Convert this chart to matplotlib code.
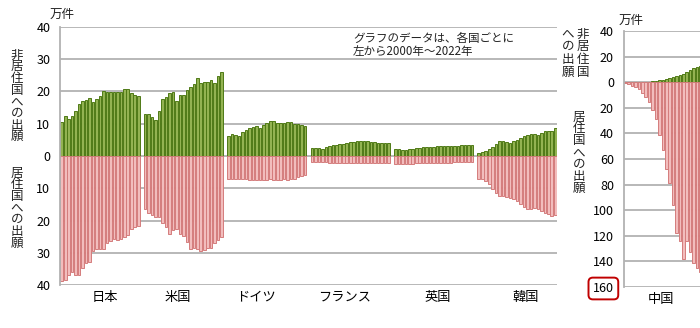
import numpy as np
import matplotlib
matplotlib.use("Agg")
import matplotlib.pyplot as plt
from matplotlib.ticker import FuncFormatter

plt.rcParams['font.family'] = ['Noto Sans CJK JP', 'DejaVu Sans']

# 2000..2022, patent applications (10,000 cases)
years = list(range(2000, 2023))
countries = ['日本', '米国', 'ドイツ', 'フランス', '英国', '韓国']

# applications to non-residence countries (upper, green)
nonres_jp = [10.5, 12.4, 11.6, 12.5, 14.0, 16.1, 16.9, 17.3, 17.8, 16.6, 17.6, 18.6,
             20.2, 19.9, 19.8, 19.7, 19.7, 19.9, 20.6, 20.6, 19.4, 18.8, 18.6]
nonres_us = [12.9, 13.0, 12.1, 11.1, 14.0, 17.5, 18.1, 19.5, 19.7, 17.1, 18.9, 19.0,
             20.4, 21.2, 22.3, 24.1, 22.6, 23.0, 22.9, 23.5, 22.5, 24.6, 26.1]
nonres_de = [6.3, 6.7, 6.4, 6.2, 7.3, 8.0, 8.6, 9.0, 9.3, 8.6, 9.6, 10.1,
             10.8, 10.9, 10.3, 10.2, 10.2, 10.4, 10.4, 9.8, 9.9, 9.7, 9.2]
nonres_fr = [2.5, 2.5, 2.5, 2.3, 2.9, 3.2, 3.3, 3.5, 3.7, 3.7, 4.0, 4.2,
             4.4, 4.5, 4.5, 4.5, 4.5, 4.4, 4.2, 4.1, 3.9, 4.1, 4.1]
nonres_uk = [2.1, 2.1, 2.0, 1.8, 2.1, 2.3, 2.4, 2.6, 2.8, 2.8, 2.9, 2.9,
             3.0, 3.0, 3.1, 3.1, 3.1, 3.2, 3.2, 3.3, 3.3, 3.4, 3.5]
nonres_kr = [1.0, 1.2, 1.6, 2.1, 2.9, 3.6, 4.5, 4.5, 4.3, 4.1, 4.5, 4.9,
             5.6, 6.2, 6.4, 6.9, 6.8, 6.6, 7.2, 7.7, 7.8, 7.8, 8.6]

# applications to residence country (lower, pink)
res_jp = [38.7, 38.5, 36.9, 35.8, 36.7, 36.7, 34.7, 33.2, 32.9, 29.3, 28.9, 28.7,
          28.7, 26.9, 26.3, 25.8, 25.9, 25.8, 25.2, 24.3, 22.7, 21.9, 21.6]
res_us = [16.5, 17.5, 18.2, 18.9, 19.0, 20.6, 22.1, 24.1, 22.9, 22.5, 24.1, 24.6,
          26.5, 28.7, 28.4, 28.9, 29.3, 29.1, 28.5, 28.4, 26.9, 26.0, 25.2]
res_de = [7.0, 7.0, 7.0, 7.1, 7.2, 7.2, 7.3, 7.3, 7.3, 7.4, 7.4, 7.3,
          7.2, 7.3, 7.3, 7.3, 7.2, 7.3, 7.2, 7.0, 6.6, 6.2, 6.0]
res_fr = [1.9, 1.9, 1.9, 2.0, 2.0, 2.1, 2.1, 2.2, 2.2, 2.2, 2.3, 2.3,
          2.3, 2.3, 2.3, 2.3, 2.3, 2.3, 2.3, 2.3, 2.3, 2.3, 2.3]
res_uk = [2.6, 2.6, 2.5, 2.5, 2.4, 2.4, 2.3, 2.3, 2.3, 2.2, 2.2, 2.2,
          2.2, 2.1, 2.1, 2.1, 2.1, 2.0, 2.0, 2.0, 1.9, 1.9, 1.9]
res_kr = [7.1, 7.2, 7.6, 8.8, 10.2, 11.4, 12.3, 12.5, 12.7, 13.0, 13.3, 13.9,
          14.8, 15.8, 16.4, 16.5, 16.1, 16.5, 16.9, 17.5, 18.0, 18.5, 18.2]

# China (own scale)
nonres_cn = [0.05, 0.05, 0.1, 0.1, 0.15, 0.2, 0.3, 0.5, 0.8, 1.0, 1.5, 2.0,
             2.6, 3.4, 4.1, 4.9, 5.9, 6.7, 8.0, 9.5, 11.0, 12.0, 12.5]
res_cn = [1.0, 1.5, 2.6, 4.1, 5.7, 8.8, 11.9, 15.2, 22, 29, 41, 52.6,
          68, 79, 96, 118, 124, 138, 124, 133, 141, 145, 148]

nonres = [nonres_jp, nonres_us, nonres_de, nonres_fr, nonres_uk, nonres_kr]
res = [res_jp, res_us, res_de, res_fr, res_uk, res_kr]

GREEN_FC, GREEN_EC = '#93b352', '#4f7a16'
PINK_FC, PINK_EC = '#f2bdbd', '#d47c7c'
GRID = '#b2b2b2'
W = 700
H = 328

def fx(px):
    return px / W

def fy(py):
    return 1 - py / H

fig = plt.figure(figsize=(7, 3.28), dpi=100)

# ---- main panel ----
ax = fig.add_axes([fx(60), fy(285.3), 497 / W, (285.3 - 26.7) / H])
slot = len(years) + 1
for i in range(len(countries)):
    xs = i * slot + np.arange(len(years))
    ax.bar(xs, nonres[i], width=0.75, color=GREEN_FC, edgecolor=GREEN_EC, linewidth=0.7, zorder=2)
    ax.bar(xs, -np.array(res[i]), width=0.75, color=PINK_FC, edgecolor=PINK_EC, linewidth=0.7, zorder=2)

for v in range(-40, 41, 10):
    ax.axhline(v, color=GRID, lw=1.3, zorder=1)
ax.set_xlim(-0.5, len(countries) * slot - 1.5)
ax.set_ylim(-40, 40)
ax.set_yticks(range(-40, 41, 10))
ax.yaxis.set_major_formatter(FuncFormatter(lambda v, p: f'{abs(int(v))}'))
ax.tick_params(axis='y', length=0, pad=7, labelsize=9)
ax.set_xticks([12.5, 33.5, 56, 81.3, 108.1, 133.5])
ax.set_xticklabels(countries)
ax.tick_params(axis='x', length=0, pad=4, labelsize=9.5)
for s in ['top', 'right', 'bottom']:
    ax.spines[s].set_visible(False)
ax.spines['left'].set_color(GRID)
ax.spines['left'].set_linewidth(1.3)

# ---- China panel ----
ax2 = fig.add_axes([fx(623.6), fy(287), 24 * 3.41 / W, (287 - 31) / H])
xs = np.arange(len(years))
ax2.bar(xs, nonres_cn, width=0.75, color=GREEN_FC, edgecolor=GREEN_EC, linewidth=0.7, zorder=2)
ax2.bar(xs, -np.array(res_cn), width=0.75, color=PINK_FC, edgecolor=PINK_EC, linewidth=0.7, zorder=2)
for v in range(-160, 41, 20):
    ax2.axhline(v, color=GRID, lw=1.3, zorder=1)
ax2.set_xlim(-0.5, 23.5)
ax2.set_ylim(-160, 40)
ax2.set_yticks(range(-160, 41, 20))
ax2.yaxis.set_major_formatter(FuncFormatter(lambda v, p: f'{abs(int(v))}'))
ax2.tick_params(axis='y', length=0, pad=7, labelsize=9)
ax2.set_xticks([10.5])
ax2.set_xticklabels(['中国'])
ax2.tick_params(axis='x', length=0, pad=4, labelsize=9.5)
for s in ['top', 'right', 'bottom']:
    ax2.spines[s].set_visible(False)
ax2.spines['left'].set_color(GRID)
ax2.spines['left'].set_linewidth(1.3)
lab160 = ax2.get_yticklabels()[0]
lab160.set_bbox(dict(boxstyle='round,pad=0.35', fc='white', ec='#c00000', lw=1.4))

# ---- texts ----
def vtext(x, y0, chars, step, size=9):
    for k, ch in enumerate(chars):
        fig.text(fx(x), fy(y0 + k * step), ch, ha='center', va='center', fontsize=size, color='#222222')

vtext(17, 55, '非居住国への出願', 11.7)
vtext(17, 173, '居住国への出願', 11.7)
vtext(583, 34, '非居住国', 12.8)
vtext(568, 34, 'への出願', 12.8)
vtext(579, 117, '居住国への出願', 11.9)

fig.text(fx(50), fy(14), '万件', ha='left', va='center', fontsize=9, color='#222222')
fig.text(fx(619), fy(20), '万件', ha='left', va='center', fontsize=9, color='#222222')
fig.text(fx(353), fy(38), 'グラフのデータは、各国ごとに', ha='left', va='center', fontsize=8.3, color='#222222')
fig.text(fx(353), fy(52), '左から2000年～2022年', ha='left', va='center', fontsize=8.3, color='#222222')

fig.savefig('out.png', dpi=100)
